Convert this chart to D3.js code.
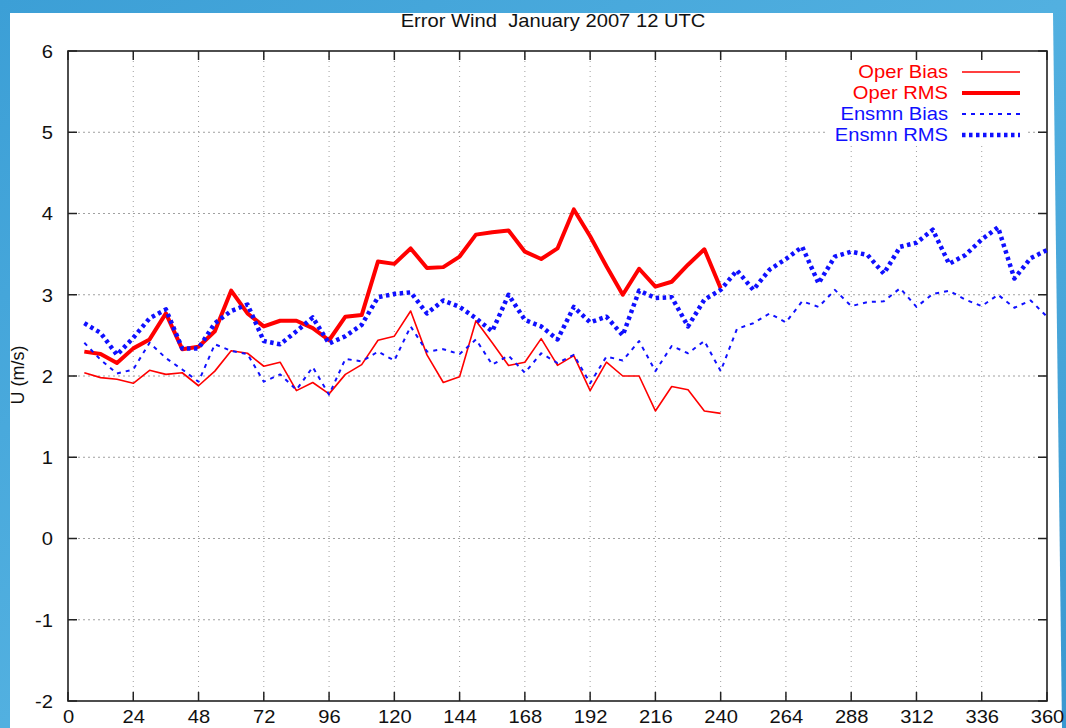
<!DOCTYPE html>
<html><head><meta charset="utf-8">
<script src="https://cdn.jsdelivr.net/npm/d3@7"></script>
<style>body{margin:0;overflow:hidden;background:#45a6da;} svg{display:block;}</style>
</head><body>
<svg id="c" width="1066" height="728"></svg>
<script>
// ---------- data ----------
const title = "Error Wind  January 2007 12 UTC";
const yLabel = "U (m/s)";
const xTicks = [0, 24, 48, 72, 96, 120, 144, 168, 192, 216, 240, 264, 288, 312, 336, 360];
const yTicks = [-2, -1, 0, 1, 2, 3, 4, 5, 6];
const seriesNames = ["Oper Bias", "Oper RMS", "Ensmn Bias", "Ensmn RMS"];

const hoursOper = [6,12,18,24,30,36,42,48,54,60,66,72,78,84,90,96,102,108,114,120,
  126,132,138,144,150,156,162,168,174,180,186,192,198,204,210,216,222,228,234,240];
const hoursEns = [6,12,18,24,30,36,42,48,54,60,66,72,78,84,90,96,102,108,114,120,
  126,132,138,144,150,156,162,168,174,180,186,192,198,204,210,216,222,228,234,240,
  246,252,258,264,270,276,282,288,294,300,306,312,318,324,330,336,342,348,354,360];

const operBias = [2.04,1.98,1.96,1.91,2.07,2.02,2.04,1.88,2.06,2.31,
  2.28,2.12,2.17,1.82,1.92,1.78,2.02,2.14,2.44,2.49,
  2.80,2.26,1.92,1.99,2.68,2.41,2.13,2.17,2.46,2.13,
  2.25,1.82,2.17,2.00,2.00,1.57,1.87,1.83,1.57,1.54];
const operRMS = [2.30,2.27,2.16,2.34,2.45,2.77,2.33,2.36,2.55,3.05,
  2.77,2.61,2.68,2.68,2.59,2.44,2.73,2.75,3.41,3.38,
  3.57,3.33,3.34,3.47,3.74,3.77,3.79,3.53,3.44,3.57,
  4.05,3.72,3.35,3.00,3.32,3.10,3.16,3.37,3.56,3.08];
const ensBias = [2.41,2.20,2.03,2.08,2.41,2.22,2.08,1.93,2.39,2.31,
  2.27,1.93,2.02,1.83,2.11,1.77,2.21,2.18,2.30,2.19,
  2.61,2.30,2.33,2.27,2.45,2.14,2.25,2.04,2.28,2.16,
  2.26,1.91,2.24,2.19,2.43,2.06,2.37,2.28,2.43,2.06,
  2.58,2.65,2.77,2.66,2.92,2.85,3.06,2.86,2.91,2.92,
  3.08,2.85,3.01,3.05,2.94,2.86,3.00,2.84,2.93,2.73];
const ensRMS = [2.65,2.53,2.26,2.47,2.71,2.82,2.34,2.34,2.65,2.80,
  2.88,2.43,2.39,2.55,2.72,2.40,2.49,2.63,2.97,3.01,
  3.03,2.77,2.93,2.85,2.71,2.55,3.00,2.69,2.61,2.45,
  2.85,2.66,2.73,2.50,3.05,2.96,2.97,2.61,2.94,3.06,
  3.30,3.06,3.31,3.44,3.59,3.14,3.47,3.53,3.49,3.26,
  3.59,3.64,3.80,3.38,3.49,3.68,3.83,3.20,3.45,3.55];

// ---------- layout ----------
const svg = d3.select("#c");
const M = {left: 68, top: 51};
const W = 979, H = 650;
const SX = 1.12; // horizontal text stretch
const FONT = "'Liberation Sans', Arial, sans-serif";

// background
const defs = svg.append("defs");
const g1 = defs.append("linearGradient").attr("id","bg").attr("x1","0").attr("y1","0").attr("x2","1").attr("y2","1");
g1.append("stop").attr("offset","0").attr("stop-color","#3c9fd6");
g1.append("stop").attr("offset","0.5").attr("stop-color","#52b0e0");
g1.append("stop").attr("offset","1").attr("stop-color","#3a98d0");
svg.append("rect").attr("width",1066).attr("height",728).attr("fill","url(#bg)");
svg.append("polygon").attr("points","10,13 1053,13 1062,728 10,728").attr("fill","#ffffff");

const x = d3.scaleLinear().domain([0, 360]).range([0, W]);
const y = d3.scaleLinear().domain([-2, 6]).range([H, 0]);

const g = svg.append("g").attr("transform", `translate(${M.left},${M.top})`);

// grid
const gridCol = "#a0a0a0";
g.append("g").selectAll("line").data(yTicks.filter(v => v > -2 && v < 6)).join("line")
  .attr("x1", 0).attr("x2", W).attr("y1", d => y(d)).attr("y2", d => y(d))
  .attr("stroke", gridCol).attr("stroke-width", 1).attr("stroke-dasharray", "2,3");
g.append("g").selectAll("line").data(xTicks.filter(v => v > 0 && v < 360)).join("line")
  .attr("y1", 0).attr("y2", H).attr("x1", d => x(d)).attr("x2", d => x(d))
  .attr("stroke", gridCol).attr("stroke-width", 1).attr("stroke-dasharray", "1,4");

// legend box (blank)
svg.append("rect").attr("x", 828).attr("y", 60).attr("width", 200).attr("height", 86).attr("fill", "#fff");

// axes labels via d3 axes
const fmt = d => String(d);
const xAxis = g.append("g").attr("transform", `translate(0,${H})`)
  .call(d3.axisBottom(x).tickValues(xTicks).tickSize(0).tickFormat(fmt));
xAxis.select(".domain").remove();
xAxis.selectAll("text").attr("y", 22).attr("dy", 0)
  .attr("transform", `scale(${SX},1)`)
  .attr("font-size", 18).attr("font-family", FONT).attr("fill", "#111");

const yAxis = g.append("g")
  .call(d3.axisLeft(y).tickValues(yTicks).tickSize(0).tickFormat(fmt));
yAxis.select(".domain").remove();
yAxis.selectAll("text").attr("x", 0).attr("dy", "0.35em")
  .attr("transform", `translate(-15,0) scale(${SX},1)`)
  .attr("text-anchor", "end")
  .attr("font-size", 18).attr("font-family", FONT).attr("fill", "#111");

// inward ticks
const tk = 9, tc = "#222";
g.append("g").selectAll("line").data(yTicks).join("line")
  .attr("x1", 0).attr("x2", tk).attr("y1", d => y(d)).attr("y2", d => y(d)).attr("stroke", tc).attr("stroke-width", 1.5);
g.append("g").selectAll("line").data(yTicks).join("line")
  .attr("x1", W - tk).attr("x2", W).attr("y1", d => y(d)).attr("y2", d => y(d)).attr("stroke", tc).attr("stroke-width", 1.5);
g.append("g").selectAll("line").data(xTicks).join("line")
  .attr("y1", H - tk).attr("y2", H).attr("x1", d => x(d)).attr("x2", d => x(d)).attr("stroke", tc).attr("stroke-width", 1.5);
g.append("g").selectAll("line").data(xTicks).join("line")
  .attr("y1", 0).attr("y2", tk).attr("x1", d => x(d)).attr("x2", d => x(d)).attr("stroke", tc).attr("stroke-width", 1.5);

// border
g.append("rect").attr("x", 0).attr("y", 0).attr("width", W).attr("height", H)
  .attr("fill", "none").attr("stroke", "#222").attr("stroke-width", 1.6);

// series
const styles = [
  {name: seriesNames[0], hours: hoursOper, vals: operBias, color: "#ff0000", w: 1.6, dash: null},
  {name: seriesNames[1], hours: hoursOper, vals: operRMS, color: "#ff0000", w: 4, dash: null},
  {name: seriesNames[2], hours: hoursEns, vals: ensBias, color: "#1010ff", w: 2, dash: "4,5"},
  {name: seriesNames[3], hours: hoursEns, vals: ensRMS, color: "#1010ff", w: 4.5, dash: "3.5,3.5"}
];
const line = d3.line().x(d => x(d[0])).y(d => y(d[1]));
styles.forEach(s => {
  const pts = s.hours.map((h, i) => [h, s.vals[i]]);
  g.append("path").datum(pts).attr("d", line)
    .attr("fill", "none").attr("stroke", s.color).attr("stroke-width", s.w)
    .attr("stroke-linejoin", "round")
    .attr("stroke-dasharray", s.dash);
});

// legend
const lg = svg.append("g");
styles.forEach((s, i) => {
  const ly = 72 + i * 21;
  lg.append("text").attr("transform", `translate(948,${ly}) scale(${SX},1)`)
    .attr("dy", "0.35em").attr("text-anchor", "end")
    .attr("font-size", 18).attr("font-family", FONT).attr("fill", s.color).text(s.name);
  lg.append("line").attr("x1", 962).attr("x2", 1020).attr("y1", ly).attr("y2", ly)
    .attr("stroke", s.color).attr("stroke-width", s.w).attr("stroke-dasharray", s.dash);
});

// title
svg.append("text").attr("transform", `translate(553,27) scale(${SX},1)`)
  .attr("text-anchor", "middle").attr("font-size", 18).attr("font-family", FONT).attr("fill", "#111")
  .style("white-space", "pre")
  .text(title);

// y label
svg.append("text").attr("transform", "translate(24,375) rotate(-90)")
  .attr("text-anchor", "middle").attr("font-size", 18).attr("font-family", FONT).attr("fill", "#111")
  .text(yLabel);
</script>
</body></html>
